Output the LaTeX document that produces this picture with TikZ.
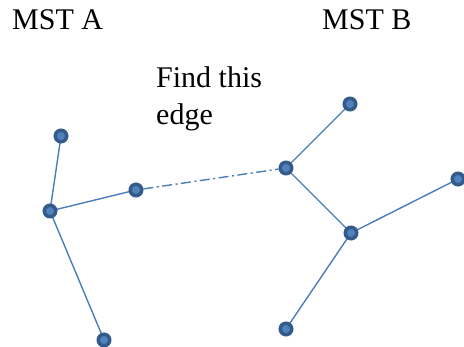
\documentclass[tikz,border=0pt]{standalone}
\usepackage{fontspec}
\setmainfont{Liberation Serif}
\usetikzlibrary{backgrounds}
\definecolor{vtxfill}{HTML}{4F81BD}
\definecolor{vtxrim}{HTML}{345A8A}
\definecolor{edgeblue}{HTML}{4A7EBB}
\tikzset{
  vtx/.style={circle, inner sep=0pt, minimum size=11.5pt, fill=vtxfill, draw=vtxrim, line width=3.5pt},
  treeedge/.style={draw=edgeblue, line width=1.4pt},
  linkedge/.style={draw=edgeblue, line width=1.4pt, dash pattern=on 10pt off 3.5pt on 2pt off 3.5pt},
  caption/.style={anchor=base west, inner sep=0pt, font=\fontsize{30}{37.7}\selectfont, align=left}
}
\begin{document}
\begin{tikzpicture}[x=1pt, y=-1pt]
  \useasboundingbox (0,0) rectangle (464,347);

  % titles
  \node[caption] (titleA) at (12,30) {MST A};
  \node[caption] (titleB) at (322,30) {MST B};
  \node[caption] (question) at (156,125) {Find this\\edge};

  % tree A
  \node[vtx] (a1) at (61,136) {};
  \node[vtx] (a2) at (50,211) {};
  \node[vtx] (a3) at (136,190) {};
  \node[vtx] (a4) at (104,340) {};

  % tree B
  \node[vtx] (hub)   at (286,168) {};
  \node[vtx] (btop)  at (350,104) {};
  \node[vtx] (bmid)  at (351,233) {};
  \node[vtx] (bright) at (458,179) {};
  \node[vtx] (bbot)  at (286,329) {};

  \begin{scope}[on background layer]
    \draw[treeedge] (a1.center) -- (a2.center);
    \draw[treeedge] (a2.center) -- (a3.center);
    \draw[treeedge] (a2.center) -- (a4.center);
    \draw[treeedge] (hub.center) -- (btop.center);
    \draw[treeedge] (hub.center) -- (bmid.center);
    \draw[treeedge] (bmid.center) -- (bright.center);
    \draw[treeedge] (bmid.center) -- (bbot.center);
    \draw[linkedge] (a3) -- (hub);
  \end{scope}
\end{tikzpicture}
\end{document}
